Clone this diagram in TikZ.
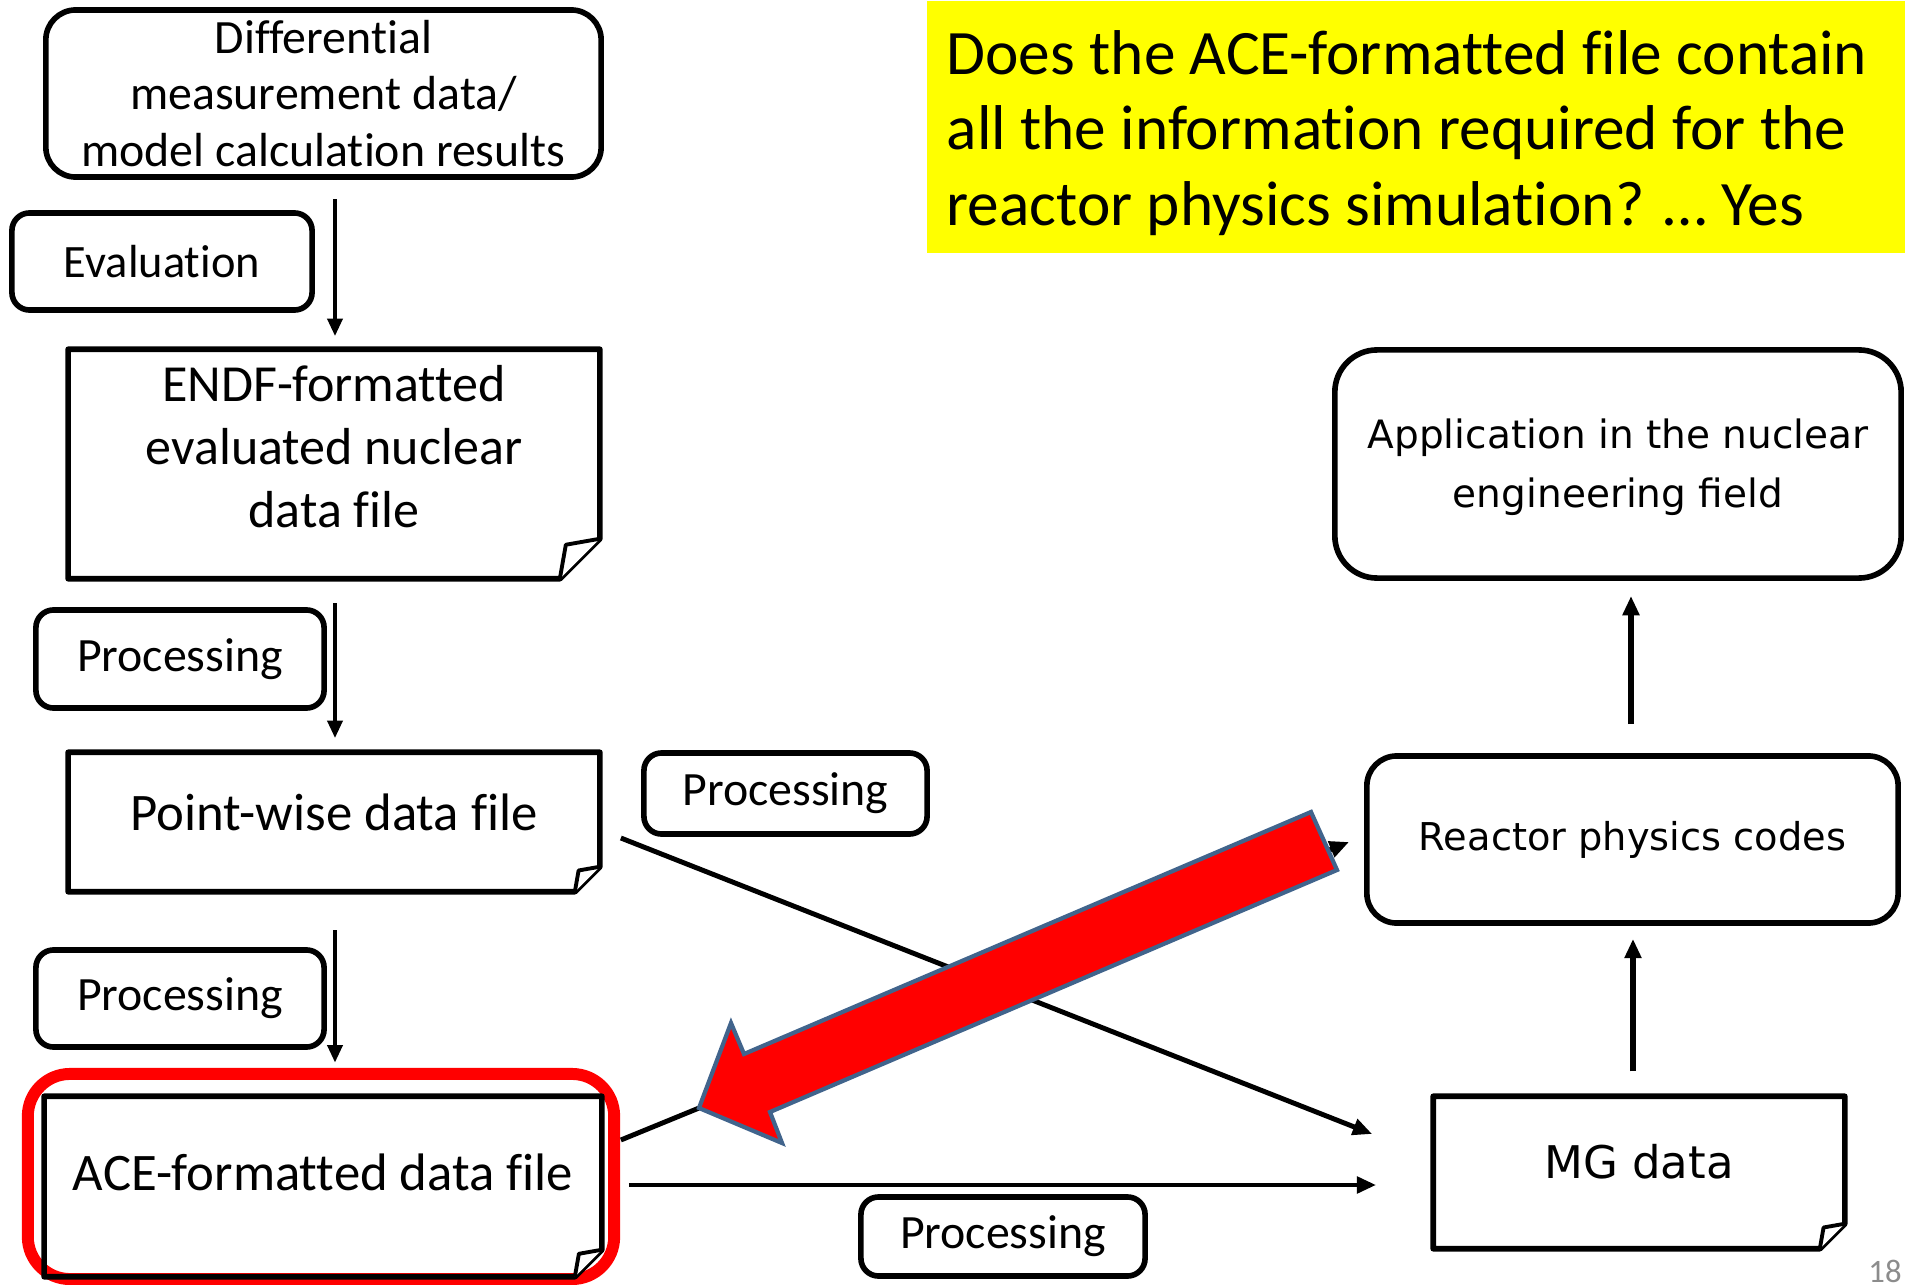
\documentclass[tikz,border=0pt]{standalone}
\usepackage{fontspec}
\setmainfont{Carlito}[Ligatures=NoCommon]
\newfontfamily\wideface{DejaVu Sans}
\usetikzlibrary{arrows.meta,calc}

\definecolor{hlred}{RGB}{255,0,0}
\definecolor{arrowedge}{RGB}{65,100,140}
\definecolor{notebg}{RGB}{255,255,0}
\definecolor{pagegray}{RGB}{140,140,140}

\tikzset{
  boxline/.style={line width=1.6pt, line join=round},
  roundbox/.style={draw, line width=1.6pt, rounded corners=#1, inner sep=0pt, align=center},
  roundbox/.default=8pt,
  docbox/.style={inner sep=0pt},
  proctext/.style={font=\fontsize{13.6}{16}\selectfont},
  flow/.style={line width=1.2pt, -{Triangle[length=5pt,width=4.2pt]}},
  flowside/.style={line width=1.4pt, -{Triangle[length=5.5pt,width=4.6pt]}},
  flowup/.style={line width=1.5pt, -{Triangle[length=5.5pt,width=4.6pt]}},
}

% document outline with a folded bottom-right corner: node name, fold size
\newcommand\docoutline[2]{%
  \draw[boxline] (#1.north west) -- (#1.north east) -- ([yshift=#2]#1.south east)
    -- ([xshift=-#2]#1.south east) -- (#1.south west) -- cycle;
  \draw[line width=1.1pt, line join=round, fill=white] ([yshift=#2]#1.south east)
    -- ([xshift=-0.85*#2, yshift=0.85*#2]#1.south east) -- ([xshift=-#2]#1.south east);
}

\begin{document}
\begin{tikzpicture}[x=0.01cm, y=-0.01cm]
\useasboundingbox (0,0) rectangle (1905,1285);

% question note
\node[fill=notebg, minimum width=9.79cm, minimum height=2.52cm, inner sep=0pt, anchor=north west] (note) at (926,0) {};
\node[anchor=west, align=left, inner sep=0pt, font=\fontsize{18}{21.4}\selectfont] (notetext) at (946,133)
  {Does the ACE-formatted file contain\\all the information required for the\\reactor physics simulation? … Yes};

% left column
\node[roundbox=8.5pt, minimum width=5.55cm, minimum height=1.67cm, font=\fontsize{13.6}{16}\selectfont] (diff) at (323.5,93.5)
  {Differential\\measurement data/\\model calculation results};
\node[roundbox=5pt, minimum width=3cm, minimum height=0.97cm, font=\fontsize{13.2}{16}\selectfont] (eval) at (162,261.5) {Evaluation};

\node[docbox, minimum width=5.3cm, minimum height=2.28cm] (endf) at (334,464) {};
\docoutline{endf}{0.4cm}
\node[align=center, font=\fontsize{14.8}{17.9}\selectfont] (endftext) at (334,447) {ENDF-formatted\\evaluated nuclear\\data file};

\node[roundbox=5pt, minimum width=2.88cm, minimum height=0.98cm, proctext] (proc1) at (180,659) {Processing};

\node[docbox, minimum width=5.3cm, minimum height=1.38cm] (pw) at (334,822) {};
\docoutline{pw}{0.25cm}
\node[font=\fontsize{15}{18}\selectfont] (pwtext) at (334,812) {Point-wise data file};

\node[roundbox=5pt, minimum width=2.88cm, minimum height=0.97cm, proctext] (proc2) at (180,998.5) {Processing};

\node[draw=hlred, line width=3.4pt, rounded corners=12pt, minimum width=5.86cm, minimum height=2.05cm, inner sep=0pt] (hl) at (321,1176.5) {};
\node[docbox, minimum width=5.56cm, minimum height=1.79cm] (ace) at (323,1186.5) {};
\docoutline{ace}{0.27cm}
\node[font=\fontsize{15}{18}\selectfont] (acetext) at (323,1172) {ACE-formatted data file};

% right column
\node[roundbox=12pt, minimum width=5.66cm, minimum height=2.28cm] (app) at (1618,464) {};
\node[align=center, font=\wideface\fontsize{11.1}{16.8}\selectfont] (apptext) at (1618,467) {Application in the nuclear\\engineering field};
\node[roundbox=8.5pt, minimum width=5.31cm, minimum height=1.67cm, font=\wideface\fontsize{10.9}{13}\selectfont] (rpc) at (1632.5,839.5) {Reactor physics codes};
\node[docbox, minimum width=4.1cm, minimum height=1.51cm] (mg) at (1639,1172.5) {};
\docoutline{mg}{0.25cm}
\node[font=\wideface\fontsize{12.8}{15}\selectfont] (mgtext) at (1639,1162) {MG data};

% processing labels in the middle
\node[roundbox=5pt, minimum width=2.83cm, minimum height=0.81cm, proctext] (proc3) at (785.5,793.5) {Processing};
\node[roundbox=5pt, minimum width=2.84cm, minimum height=0.79cm, proctext] (proc4) at (1003,1236.5) {Processing};

% connector end points
\coordinate (a1s) at ($(endf.north)+(1,-150)$);
\coordinate (a2s) at ($(pw.north)+(1,-149)$);
\coordinate (a3s) at ($(hl.north)+(14,-137.5)$);
\coordinate (pwout) at ($(pw.east)+(21,16)$);
\coordinate (mgin1) at ($(mg.west)+(-61,-38.5)$);
\coordinate (aceout1) at ($(ace.east)+(19,-46.5)$);
\coordinate (rpcin) at ($(rpc.west)+(-15,2.5)$);
\coordinate (aceout2) at ($(ace.east)+(27,-1.5)$);
\coordinate (mgin2) at ($(mg.west)+(-57,12.5)$);
\coordinate (mgup) at ($(mg.north)+(-6,-25)$);
\coordinate (rpcup) at ($(rpc.north)+(-1.5,-29)$);

% connectors
\draw[flow, shorten >=3.7pt] (a1s) -- (a1s |- endf.north);
\draw[flow, shorten >=4pt] (a2s) -- (a2s |- pw.north);
\draw[flow, shorten >=1.5pt] (a3s) -- (a3s |- hl.north);
\draw[flowside] (pwout) -- (mgin1);
\draw[flowside] (aceout1) -- (rpcin);
\draw[flowside] (aceout2) -- (aceout2 -| mgin2);
\draw[flowup, shorten >=3.7pt] (mgup) -- (mgup |- rpc.south);
\draw[flowup, shorten >=4.3pt] (rpcup) -- (rpcup |- app.south);

% big pointer arrow
\draw[fill=hlred, draw=arrowedge, line width=1.2pt, line join=miter]
  (699,1108) -- (731,1023) -- (744,1054) -- (1311,812) -- (1337,870) -- (770,1112) -- (782,1143) -- cycle;

% slide number
\node[text=pagegray, anchor=south, inner sep=0pt, font=\fontsize{9.3}{11}\selectfont] (pagenum) at (1885,1283) {18};
\end{tikzpicture}
\end{document}
